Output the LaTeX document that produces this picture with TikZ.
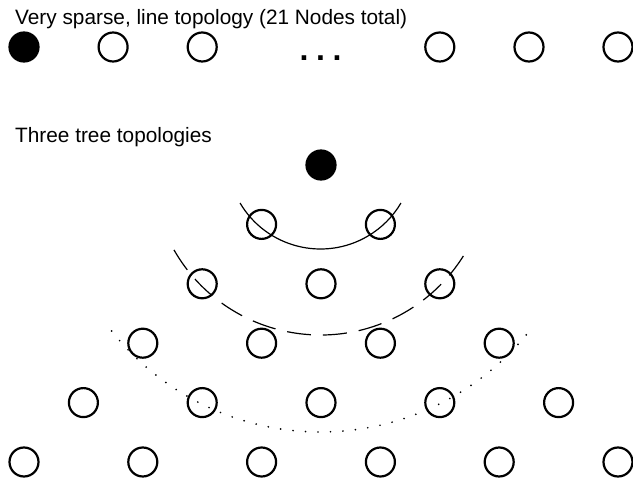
\documentclass[tikz,border=0pt]{standalone}
\usepackage{fontspec}
\setmainfont{Liberation Sans}
\begin{document}
\begin{tikzpicture}[x=1pt,y=1pt,
  nd/.style={circle,draw,line width=2.2pt,minimum size=29pt,inner sep=0pt},
  ndf/.style={nd,fill=black},
  lbl/.style={anchor=base west,inner sep=0pt,font=\fontsize{20.8}{24}\selectfont},
  ell/.style={anchor=base,inner sep=0pt,text height=5pt,text depth=0pt,font=\fontsize{32}{34}\selectfont\bfseries},
  arcsolid/.style={line width=1.2pt},
  arcdash/.style={line width=1.2pt,dash pattern=on 24pt off 12pt},
  arcdot/.style={line width=1.9pt,line cap=round,dash pattern=on 0pt off 12.5pt}]
\useasboundingbox (0,0) rectangle (633,480);
% titles
\node[lbl] (title1) at (15,455) {Very sparse, line topology (21 Nodes total)};
\node[lbl] (title2) at (15,337.5) {Three tree topologies};
% line topology
\node[ndf] (t0) at (24,433) {};
\node[nd] (t1) at (113.1,433) {};
\node[nd] (t2) at (202.2,433) {};
\node[ell] (tdots) at (320.5,419) {.\kern7.6pt.\kern7.6pt.};
\node[nd] (t4) at (439.8,433) {};
\node[nd] (t5) at (529,433) {};
\node[nd] (t6) at (618,433) {};
% tree
\node[ndf] (r0c5) at (321,315) {};
\node[nd] (r1c4) at (261.6,255.6) {};
\node[nd] (r1c6) at (380.4,255.6) {};
\node[nd] (r2c3) at (202.2,196.2) {};
\node[nd] (r2c5) at (321,196.2) {};
\node[nd] (r2c7) at (439.8,196.2) {};
\node[nd] (r3c2) at (142.8,136.8) {};
\node[nd] (r3c4) at (261.6,136.8) {};
\node[nd] (r3c6) at (380.4,136.8) {};
\node[nd] (r3c8) at (499.2,136.8) {};
\node[nd] (r4c1) at (83.4,77.4) {};
\node[nd] (r4c3) at (202.2,77.4) {};
\node[nd] (r4c5) at (321,77.4) {};
\node[nd] (r4c7) at (439.8,77.4) {};
\node[nd] (r4c9) at (558.6,77.4) {};
\node[nd] (r5c0) at (24,18) {};
\node[nd] (r5c2) at (142.8,18) {};
\node[nd] (r5c4) at (261.6,18) {};
\node[nd] (r5c6) at (380.4,18) {};
\node[nd] (r5c8) at (499.2,18) {};
\node[nd] (r5c10) at (618,18) {};
% arcs
\coordinate (cs) at (320.5,324.4);
\coordinate (cd) at (320.5,313.7);
\coordinate (co) at (320.5,314.5);
\draw[arcsolid] (cs) ++(-149.5:93.4) arc[start angle=-149.5,end angle=-30.5,radius=93.4];
\draw[arcdash] (cd) ++(-150.3:168.7) arc[start angle=-150.3,end angle=-29.7,radius=168.7];
\draw[arcdot] (co) ++(-141.6:266.5) arc[start angle=-141.6,end angle=-38.4,radius=266.5];
\end{tikzpicture}
\end{document}
